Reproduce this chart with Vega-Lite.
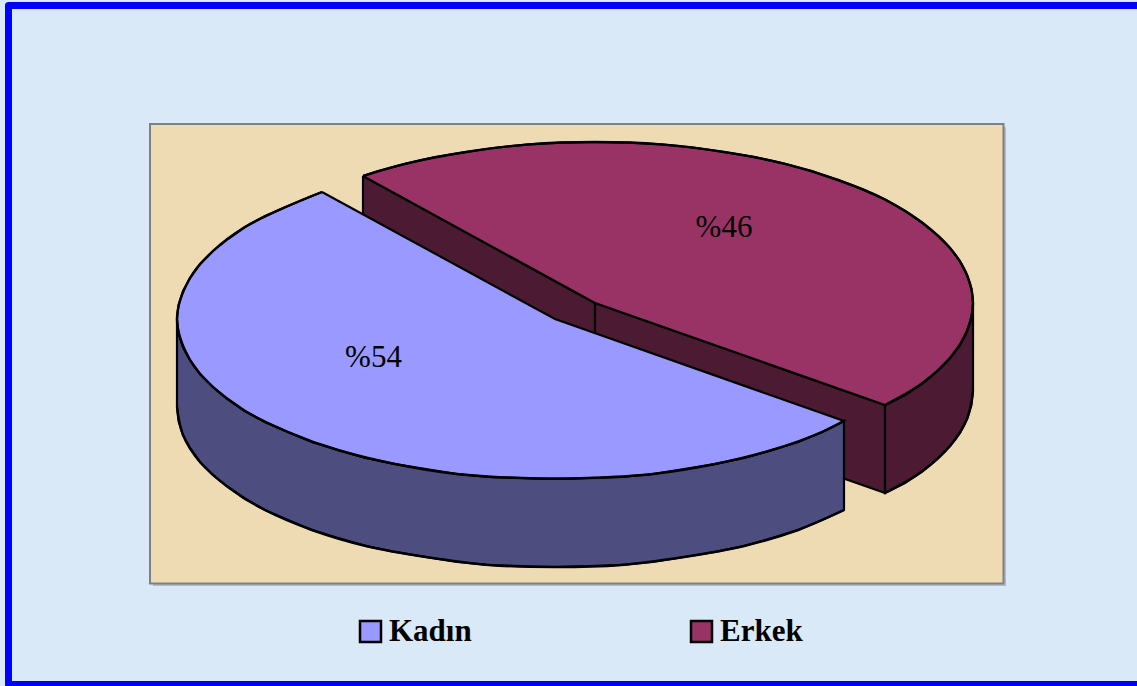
{"$schema":"https://vega.github.io/schema/vega-lite/v6.json","width":1137,"height":686,"padding":0,"autosize":{"type":"fit","contains":"padding"},"background":"#dae9f8","view":{"stroke":null},
"datasets":{
"frame":[{"x":1137,"y":5.5},{"x":8.5,"y":5.5},{"x":8.5,"y":684.5},{"x":1137,"y":684.5}],
"shadow":[{"x":153,"x2":1006,"y":127,"y2":586}],
"plot":[{"x":150,"x2":1003.5,"y":124,"y2":583.5}],
"maroonSides":[
{"f":"a","x":363,"y":176},{"f":"a","x":595,"y":303},{"f":"a","x":595,"y":391},{"f":"a","x":363,"y":264},{"f":"a","x":363,"y":176},
{"f":"b","x":595,"y":303},{"f":"b","x":885,"y":405},{"f":"b","x":885,"y":493},{"f":"b","x":595,"y":391},{"f":"b","x":595,"y":303},
{"f":"c","x":973,"y":303},{"f":"c","x":971.5,"y":317},{"f":"c","x":967,"y":331},{"f":"c","x":960,"y":345},{"f":"c","x":950,"y":358},{"f":"c","x":937,"y":371},{"f":"c","x":922,"y":383.5},{"f":"c","x":905,"y":395},{"f":"c","x":885,"y":405},{"f":"c","x":885,"y":493},{"f":"c","x":905,"y":483},{"f":"c","x":922,"y":471.5},{"f":"c","x":937,"y":459},{"f":"c","x":950,"y":446},{"f":"c","x":960,"y":433},{"f":"c","x":967,"y":419},{"f":"c","x":971.5,"y":405},{"f":"c","x":973,"y":391},{"f":"c","x":973,"y":303}
],
"maroonTop":[
{"Cinsiyet":"Erkek","x":363,"y":176},{"Cinsiyet":"Erkek","x":378,"y":171},{"Cinsiyet":"Erkek","x":406,"y":163.6},{"Cinsiyet":"Erkek","x":435,"y":157},{"Cinsiyet":"Erkek","x":466,"y":152},{"Cinsiyet":"Erkek","x":497,"y":147.5},{"Cinsiyet":"Erkek","x":529,"y":144.4},{"Cinsiyet":"Erkek","x":562,"y":142.6},{"Cinsiyet":"Erkek","x":595,"y":142},{"Cinsiyet":"Erkek","x":628,"y":142.6},{"Cinsiyet":"Erkek","x":661,"y":144.4},{"Cinsiyet":"Erkek","x":693,"y":147.5},{"Cinsiyet":"Erkek","x":724,"y":152},{"Cinsiyet":"Erkek","x":755,"y":157},{"Cinsiyet":"Erkek","x":784,"y":163.6},{"Cinsiyet":"Erkek","x":812,"y":171},{"Cinsiyet":"Erkek","x":838,"y":180},{"Cinsiyet":"Erkek","x":862,"y":189},{"Cinsiyet":"Erkek","x":885,"y":199.5},{"Cinsiyet":"Erkek","x":905,"y":211},{"Cinsiyet":"Erkek","x":922,"y":222.5},{"Cinsiyet":"Erkek","x":937,"y":235},{"Cinsiyet":"Erkek","x":950,"y":248},{"Cinsiyet":"Erkek","x":960,"y":261},{"Cinsiyet":"Erkek","x":967,"y":275},{"Cinsiyet":"Erkek","x":971.5,"y":289},{"Cinsiyet":"Erkek","x":973,"y":303},{"Cinsiyet":"Erkek","x":971.5,"y":317},{"Cinsiyet":"Erkek","x":967,"y":331},{"Cinsiyet":"Erkek","x":960,"y":345},{"Cinsiyet":"Erkek","x":950,"y":358},{"Cinsiyet":"Erkek","x":937,"y":371},{"Cinsiyet":"Erkek","x":922,"y":383.5},{"Cinsiyet":"Erkek","x":905,"y":395},{"Cinsiyet":"Erkek","x":885,"y":405},{"Cinsiyet":"Erkek","x":595,"y":303},{"Cinsiyet":"Erkek","x":363,"y":176}
],
"blueSide":[
{"x":177,"y":319},{"x":178.5,"y":333},{"x":183,"y":347},{"x":190,"y":360},{"x":200,"y":374},{"x":213,"y":387},{"x":228,"y":399},{"x":245,"y":411},{"x":265,"y":422},{"x":288,"y":432},{"x":312,"y":442},{"x":338,"y":450},{"x":366,"y":458},{"x":395,"y":464},{"x":426,"y":469},{"x":457,"y":474},{"x":489,"y":477},{"x":522,"y":478},{"x":555,"y":479},{"x":588,"y":478},{"x":621,"y":477},{"x":653,"y":474},{"x":684,"y":469},{"x":715,"y":464},{"x":744,"y":458},{"x":772,"y":450},{"x":798,"y":442},{"x":822,"y":432},{"x":844,"y":421},{"x":844,"y":510},{"x":822,"y":520},{"x":798,"y":530},{"x":772,"y":538},{"x":744,"y":546},{"x":715,"y":552},{"x":684,"y":557},{"x":653,"y":562},{"x":621,"y":565},{"x":588,"y":566},{"x":555,"y":567},{"x":522,"y":566},{"x":489,"y":565},{"x":457,"y":562},{"x":426,"y":557},{"x":395,"y":552},{"x":366,"y":546},{"x":338,"y":538},{"x":312,"y":530},{"x":288,"y":520},{"x":265,"y":510},{"x":245,"y":499},{"x":228,"y":487},{"x":213,"y":475},{"x":200,"y":462},{"x":190,"y":448},{"x":183,"y":435},{"x":178.5,"y":421},{"x":177,"y":407},{"x":177,"y":319}
],
"blueTop":[
{"Cinsiyet":"Kadın","x":322,"y":192},{"Cinsiyet":"Kadın","x":312,"y":196},{"Cinsiyet":"Kadın","x":288,"y":206},{"Cinsiyet":"Kadın","x":265,"y":216},{"Cinsiyet":"Kadın","x":245,"y":227},{"Cinsiyet":"Kadın","x":228,"y":239},{"Cinsiyet":"Kadın","x":213,"y":251},{"Cinsiyet":"Kadın","x":200,"y":264},{"Cinsiyet":"Kadın","x":190,"y":278},{"Cinsiyet":"Kadın","x":183,"y":291},{"Cinsiyet":"Kadın","x":178.5,"y":305},{"Cinsiyet":"Kadın","x":177,"y":319},{"Cinsiyet":"Kadın","x":178.5,"y":333},{"Cinsiyet":"Kadın","x":183,"y":347},{"Cinsiyet":"Kadın","x":190,"y":360},{"Cinsiyet":"Kadın","x":200,"y":374},{"Cinsiyet":"Kadın","x":213,"y":387},{"Cinsiyet":"Kadın","x":228,"y":399},{"Cinsiyet":"Kadın","x":245,"y":411},{"Cinsiyet":"Kadın","x":265,"y":422},{"Cinsiyet":"Kadın","x":288,"y":432},{"Cinsiyet":"Kadın","x":312,"y":442},{"Cinsiyet":"Kadın","x":338,"y":450},{"Cinsiyet":"Kadın","x":366,"y":458},{"Cinsiyet":"Kadın","x":395,"y":464},{"Cinsiyet":"Kadın","x":426,"y":469},{"Cinsiyet":"Kadın","x":457,"y":474},{"Cinsiyet":"Kadın","x":489,"y":477},{"Cinsiyet":"Kadın","x":522,"y":478},{"Cinsiyet":"Kadın","x":555,"y":479},{"Cinsiyet":"Kadın","x":588,"y":478},{"Cinsiyet":"Kadın","x":621,"y":477},{"Cinsiyet":"Kadın","x":653,"y":474},{"Cinsiyet":"Kadın","x":684,"y":469},{"Cinsiyet":"Kadın","x":715,"y":464},{"Cinsiyet":"Kadın","x":744,"y":458},{"Cinsiyet":"Kadın","x":772,"y":450},{"Cinsiyet":"Kadın","x":798,"y":442},{"Cinsiyet":"Kadın","x":822,"y":432},{"Cinsiyet":"Kadın","x":844,"y":421},{"Cinsiyet":"Kadın","x":555,"y":319},{"Cinsiyet":"Kadın","x":322,"y":192}
],
"arcs":[
{"f":"m1","x":363,"y":176},{"f":"m1","x":406,"y":163.6},{"f":"m1","x":466,"y":152},{"f":"m1","x":529,"y":144.4},{"f":"m1","x":595,"y":142},{"f":"m1","x":661,"y":144.4},{"f":"m1","x":724,"y":152},{"f":"m1","x":784,"y":163.6},{"f":"m1","x":838,"y":180},{"f":"m1","x":885,"y":199.5},{"f":"m1","x":922,"y":222.5},{"f":"m1","x":950,"y":248},{"f":"m1","x":967,"y":275},{"f":"m1","x":973,"y":303},{"f":"m1","x":967,"y":331},{"f":"m1","x":950,"y":358},{"f":"m1","x":922,"y":383.5},{"f":"m1","x":885,"y":405},
{"f":"m2","x":885,"y":493},{"f":"m2","x":922,"y":471.5},{"f":"m2","x":950,"y":446},{"f":"m2","x":967,"y":419},{"f":"m2","x":973,"y":391},
{"f":"b1","x":322,"y":192},{"f":"b1","x":288,"y":206},{"f":"b1","x":245,"y":227},{"f":"b1","x":213,"y":251},{"f":"b1","x":190,"y":278},{"f":"b1","x":177,"y":319},{"f":"b1","x":190,"y":360},{"f":"b1","x":213,"y":387},{"f":"b1","x":245,"y":411},{"f":"b1","x":288,"y":432},{"f":"b1","x":338,"y":450},{"f":"b1","x":395,"y":464},{"f":"b1","x":457,"y":474},{"f":"b1","x":522,"y":478},{"f":"b1","x":588,"y":478},{"f":"b1","x":653,"y":474},{"f":"b1","x":715,"y":464},{"f":"b1","x":772,"y":450},{"f":"b1","x":822,"y":432},{"f":"b1","x":844,"y":421},
{"f":"b2","x":844,"y":510},{"f":"b2","x":798,"y":530},{"f":"b2","x":744,"y":546},{"f":"b2","x":684,"y":557},{"f":"b2","x":621,"y":565},{"f":"b2","x":555,"y":567},{"f":"b2","x":489,"y":565},{"f":"b2","x":426,"y":557},{"f":"b2","x":366,"y":546},{"f":"b2","x":312,"y":530},{"f":"b2","x":265,"y":510},{"f":"b2","x":228,"y":487},{"f":"b2","x":200,"y":462},{"f":"b2","x":183,"y":435},{"f":"b2","x":177,"y":407}
],
"labels":[{"etiket":"%54","x":373.5,"y":358},{"etiket":"%46","x":724,"y":228}]
},
"encoding":{
"x":{"field":"x","type":"quantitative","axis":null,"scale":{"domain":[0,1137],"nice":false,"zero":false}},
"y":{"field":"y","type":"quantitative","axis":null,"scale":{"domain":[686,0],"nice":false,"zero":false}}
},
"layer":[
{"data":{"name":"frame"},"mark":{"type":"line","clip":true,"stroke":"#0000ff","strokeWidth":7,"strokeJoin":"round"},"encoding":{"order":{"value":null}}},
{"data":{"name":"shadow"},"mark":{"type":"rect","fill":"#aebccd"},"encoding":{"x2":{"field":"x2"},"y2":{"field":"y2"}}},
{"data":{"name":"plot"},"mark":{"type":"rect","fill":"#eedbb4","stroke":"#808080","strokeWidth":2},"encoding":{"x2":{"field":"x2"},"y2":{"field":"y2"}}},
{"data":{"name":"maroonSides"},"mark":{"type":"line","fill":"#4d1a33","stroke":"#000000","strokeWidth":2.2},"encoding":{"detail":{"field":"f"},"order":{"value":null}}},
{"data":{"name":"maroonTop"},"mark":{"type":"line","stroke":"#000000","strokeWidth":2.2},"encoding":{"fill":{"field":"Cinsiyet","type":"nominal"},"order":{"value":null}}},
{"data":{"name":"blueSide"},"mark":{"type":"line","fill":"#4d4d80","stroke":"#000000","strokeWidth":2.2},"encoding":{"order":{"value":null}}},
{"data":{"name":"blueTop"},"mark":{"type":"line","stroke":"#000000","strokeWidth":2.2},"encoding":{"fill":{"field":"Cinsiyet","type":"nominal","scale":{"domain":["Kadın","Erkek"],"range":["#9999ff","#993366"]},"legend":{"title":null,"orient":"none","legendX":355,"legendY":616,"direction":"horizontal","columns":2,"columnPadding":214,"symbolType":"square","symbolSize":441,"symbolStrokeColor":"#000000","symbolStrokeWidth":2.5,"symbolOpacity":1,"labelFont":"Liberation Serif","labelFontWeight":"bold","labelFontSize":31,"labelColor":"#000000","labelOffset":3,"labelLimit":200}},"order":{"value":null}}},
{"data":{"name":"arcs"},"mark":{"type":"line","stroke":"#000000","strokeWidth":2.4,"interpolate":"catmull-rom"},"encoding":{"detail":{"field":"f"},"order":{"value":null}}},
{"data":{"name":"labels"},"mark":{"type":"text","font":"Liberation Serif","fontSize":31,"color":"#000000"},"encoding":{"text":{"field":"etiket"}}}
]}
